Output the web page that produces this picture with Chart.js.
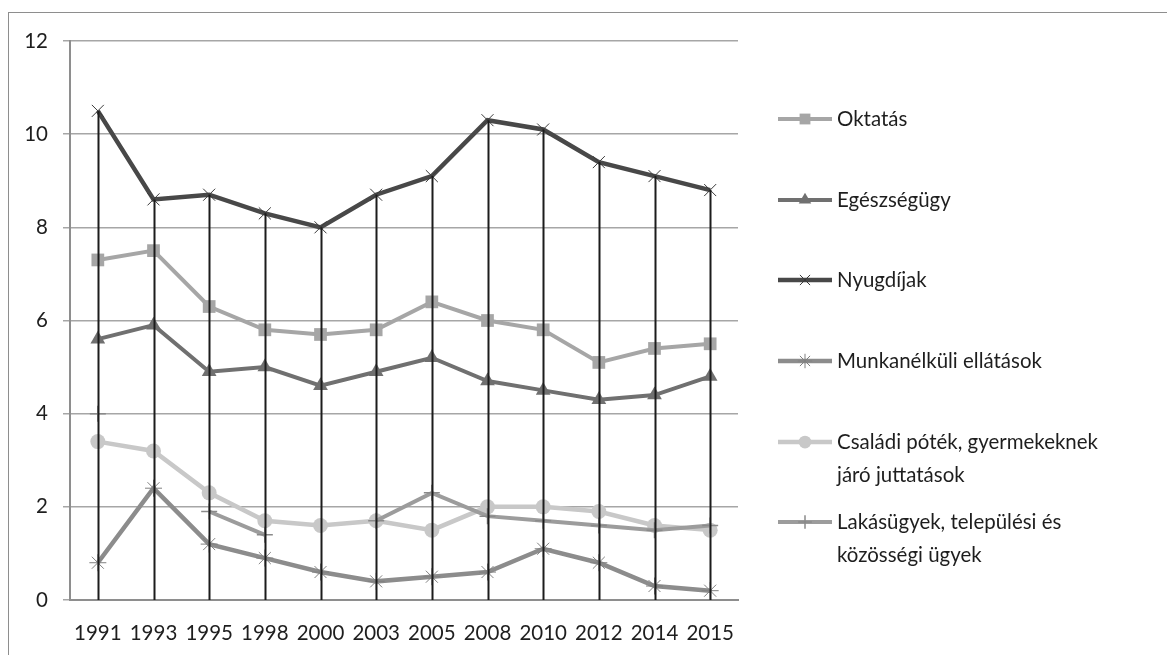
<!DOCTYPE html>
<html>
<head>
<meta charset="utf-8">
<script src="https://cdn.jsdelivr.net/npm/chart.js@4/dist/chart.umd.min.js"></script>
<style>
  html, body { margin: 0; padding: 0; background: #fff; overflow: hidden; }
  #wrap { position: relative; width: 1167px; height: 655px; }
  #frame { position: absolute; left: 8px; top: 12px; width: 2000px; height: 2000px; border: 1.5px solid #8e8e8e; }
  canvas { position: absolute; left: 0; top: 0; }
</style>
</head>
<body>
<div id="wrap">
  <div id="frame"></div>
  <canvas id="chart" width="1167" height="655"></canvas>
</div>
<script>
const years = ['1991', '1993', '1995', '1998', '2000', '2003', '2005', '2008', '2010', '2012', '2014', '2015']
const oktatas = [7.3, 7.5, 6.3, 5.8, 5.7, 5.8, 6.4, 6.0, 5.8, 5.1, 5.4, 5.5]
const egeszsegugy = [5.6, 5.9, 4.9, 5.0, 4.6, 4.9, 5.2, 4.7, 4.5, 4.3, 4.4, 4.8]
const nyugdijak = [10.5, 8.6, 8.7, 8.3, 8.0, 8.7, 9.1, 10.3, 10.1, 9.4, 9.1, 8.8]
const munkanelkuli = [0.8, 2.4, 1.2, 0.9, 0.6, 0.4, 0.5, 0.6, 1.1, 0.8, 0.3, 0.2]
const csaladi = [3.4, 3.2, 2.3, 1.7, 1.6, 1.7, 1.5, 2.0, 2.0, 1.9, 1.6, 1.5]
const lakasugyek = [4.0, null, 1.9, 1.4, null, 1.7, 2.3, 1.8, 1.7, 1.6, 1.5, 1.6]
const yTicks = [0, 2, 4, 6, 8, 10, 12]

const FONT = 'Lato'

function series(label, data, color, width, style, radius, extra) {
    return Object.assign({
        label: label,
        data: data,
        borderColor: color,
        backgroundColor: color,
        borderWidth: width,
        pointStyle: style,
        pointRadius: radius,
        pointBackgroundColor: color,
        pointBorderColor: color,
        pointBorderWidth: 0,
        pointHoverRadius: radius,
        tension: 0,
        fill: false,
        spanGaps: false
    }, extra || {})
}

const datasets = [
    series('Oktatás', oktatas, '#a6a6a6', 4, 'rect', 9, { order: 6 }),
    series('Egészségügy', egeszsegugy, '#707070', 4, 'triangle', 8.5, { order: 5 }),
    series('Nyugdíjak', nyugdijak, '#484848', 4.5, 'crossRot', 8.5, { order: 4, pointBorderColor: '#3a3a3a', pointBorderWidth: 1 }),
    series('Munkanélküli ellátások', munkanelkuli, '#8c8c8c', 4.5, 'star', 8.5, { order: 3, pointBorderColor: '#808080', pointBorderWidth: 1 }),
    series('Családi póték, gyermekeknek|járó juttatások', csaladi, '#c8c8c8', 4.5, 'circle', 7.5, { order: 2 }),
    series('Lakásügyek, települési és|közösségi ügyek', lakasugyek, '#9c9c9c', 4, 'cross', 8, { order: 1, pointBorderColor: '#8a8a8a', pointBorderWidth: 1.5 })
]

// black drop lines from the highest point of every year down to the axis
const dropLines = {
    id: 'dropLines',
    afterDatasetsDraw(chart) {
        const ctx = chart.ctx
        const x = chart.scales.x
        const y = chart.scales.y
        ctx.save()
        ctx.strokeStyle = '#1c1c1c'
        ctx.lineWidth = 2
        years.forEach((yr, i) => {
            let top = null
            datasets.forEach(ds => {
                const v = ds.data[i]
                if (v !== null && (top === null || v > top)) top = v
            })
            if (top === null) return
            const px = Math.round(x.getPixelForValue(i)) + 0.5
            ctx.beginPath()
            ctx.moveTo(px, y.getPixelForValue(top))
            ctx.lineTo(px, y.getPixelForValue(0))
            ctx.stroke()
        })
        ctx.restore()
    }
}

// legend on the right, like the original
const sideLegend = {
    id: 'sideLegend',
    afterDraw(chart) {
        const ctx = chart.ctx
        const rows = [119, 200, 280, 361, 442, 522]
        ctx.save()
        datasets.forEach((ds, i) => {
            const cy = rows[i]
            ctx.strokeStyle = ds.borderColor
            ctx.lineWidth = ds.borderWidth
            ctx.beginPath()
            ctx.moveTo(778, cy)
            ctx.lineTo(832, cy)
            ctx.stroke()
            ctx.fillStyle = ds.pointBackgroundColor
            ctx.strokeStyle = ds.pointBorderColor
            ctx.lineWidth = ds.pointBorderWidth || 1
            Chart.helpers.drawPoint(ctx, {
                pointStyle: ds.pointStyle,
                radius: ds.pointRadius * 0.85,
                rotation: 0,
                borderWidth: ds.pointBorderWidth
            }, 805, cy)
            // calibri-ish: a bit taller than wide
            ctx.fillStyle = '#1e1e1e'
            ctx.font = '22px ' + FONT
            ctx.textBaseline = 'middle'
            ctx.textAlign = 'left'
            ds.label.split('|').forEach((line, k) => {
                ctx.save()
                ctx.translate(837, cy + k * 33)
                ctx.scale(0.93, 1)
                ctx.fillText(line, 0, 0)
                ctx.restore()
            })
        })
        ctx.restore()
    }
}

new Chart(document.querySelector('#chart'), {
    type: 'line',
    data: {
        labels: years,
        datasets: datasets
    },
    options: {
        responsive: false,
        animation: false,
        events: [],
        layout: {
            padding: { top: 41, right: 429, bottom: 0, left: 0 }
        },
        plugins: {
            legend: { display: false },
            tooltip: { enabled: false }
        },
        scales: {
            x: {
                offset: true,
                grid: { display: false, drawTicks: false },
                border: { display: true, color: '#8e8e8e', width: 2 },
                ticks: {
                    color: '#1e1e1e',
                    font: { family: FONT, size: 20.5 },
                    padding: 21,
                    maxRotation: 0,
                    autoSkip: false
                },
                afterFit(scale) { scale.height = 55 }
            },
            y: {
                min: 0,
                max: 12,
                afterBuildTicks(scale) { scale.ticks = yTicks.map(v => ({ value: v })) },
                grid: { color: '#a6a6a6', lineWidth: 1.5, tickLength: 7, drawTicks: true },
                border: { display: true, color: '#8e8e8e', width: 2 },
                ticks: {
                    color: '#1e1e1e',
                    font: { family: FONT, size: 20.5 },
                    padding: 15
                },
                afterFit(scale) { scale.width = 70 }
            }
        }
    },
    plugins: [dropLines, sideLegend]
});
</script>
</body>
</html>
